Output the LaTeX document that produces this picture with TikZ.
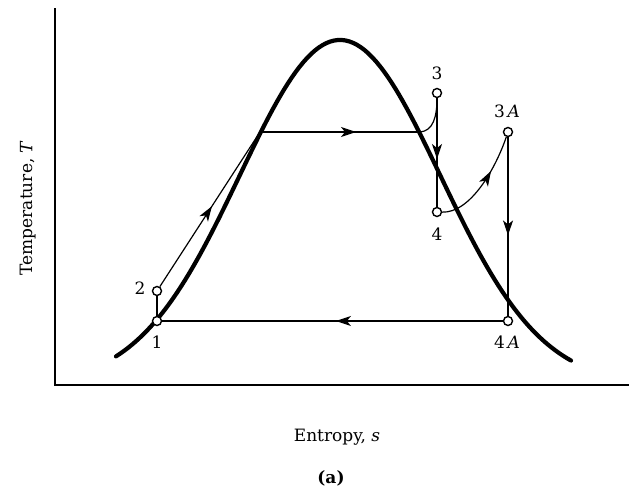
\documentclass[tikz,border=0pt]{standalone}
\usepackage{fontspec}
\setmainfont{DejaVu Serif}
\usetikzlibrary{arrows.meta,decorations.markings}
\newcommand{\lblfont}{\fontsize{17}{20}\selectfont}

\begin{document}
\begin{tikzpicture}[x=1pt,y=-1pt,
  statept/.style={circle,draw,fill=white,inner sep=0pt,minimum size=9pt,line width=1.4pt},
  thinline/.style={line width=1.2pt},
  flow/.style={decoration={markings,mark=at position #1 with {\arrow{Stealth[length=15pt,width=10pt,inset=4pt]}}},postaction={decorate}},
  lbl/.style={font=\lblfont,inner sep=1pt}]
  \useasboundingbox (0,0) rectangle (632,490);

  % Axes
  \coordinate (origin) at (55,385);
  \coordinate (ytop) at (55,8);
  \coordinate (xend) at (629,385);
  \draw[line width=2.6pt] (ytop) -- (origin) -- (xend);
  \node[lbl,rotate=90] (ylab) at (28,208) {Temperature, \textit{T}};
  \node[lbl] (xlab) at (337,437) {Entropy, \textit{s}};
  \node[lbl] (cap) at (331,478) {\textbf{(a)}};

  % Saturation dome
  \draw[line width=4.2pt,line cap=round] plot[domain=116:571,samples=120]
    (\x,{385-345*exp(-((\x-340)/142)^2)});

  % States
  \node[statept] (p1) at (157,321) {};
  \node[statept] (p2) at (157,291) {};
  \node[statept] (p3) at (437,93) {};
  \node[statept] (p4) at (437,212) {};
  \node[statept] (p3A) at (508,132) {};
  \node[statept] (p4A) at (508,321) {};
  \coordinate (jL) at (260,132);
  \coordinate (jR) at (420,132);

  \node[lbl] (l1) at (157,342) {1};
  \node[lbl] (l2) at (140,288) {2};
  \node[lbl] (l3) at (437,73) {3};
  \node[lbl] (l4) at (437,234) {4};
  \node[lbl] (l3A) at (507,111) {3\,\textit{A}};
  \node[lbl] (l4A) at (507,342) {4\,\textit{A}};

  % Cycle
  \draw[thinline] (p1) -- (p2);
  \draw[thinline,flow=0.52] (p2) -- (jL);
  \draw[thinline,flow=0.6] (jL) -- (jR);
  \draw[thinline] (jR) .. controls (433,131) and (437,117) .. (p3);
  \draw[thinline,flow=0.56] (p3) -- (p4);
  \draw[thinline,flow=0.64] (p4) .. controls (470,213) and (495,170) .. (p3A);
  \draw[thinline,flow=0.55] (p3A) -- (p4A);
  \draw[thinline,flow=0.49] (p4A) -- (p1);
\end{tikzpicture}
\end{document}
